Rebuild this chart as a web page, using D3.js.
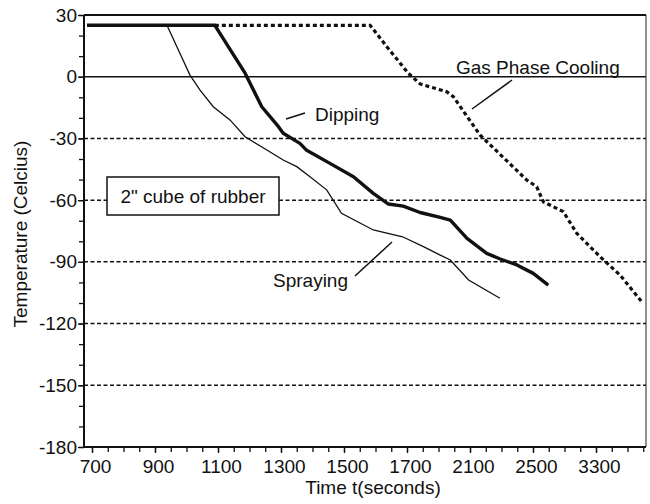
<!DOCTYPE html>
<html>
<head>
<meta charset="utf-8">
<script src="https://cdn.jsdelivr.net/npm/d3@7"></script>
<style>
  body { margin: 0; background: #fff; }
  svg text { font-family: "Liberation Sans", Arial, sans-serif; fill: #111; }
</style>
</head>
<body>
<svg class="chart" width="650" height="504"></svg>
<script>
// time axis labels (irregular steps, drawn equally spaced)
const timeTicks = [700, 900, 1100, 1300, 1500, 1700, 2100, 2500, 3300];
const tempTicks = [30, 0, -30, -60, -90, -120, -150, -180];

// Dipping
const dipTime = [684, 1090, 1186, 1239, 1292, 1307, 1360, 1380, 1454, 1530, 1593, 1641, 1688, 1783, 1911, 1975, 2081, 2206, 2292, 2398, 2503, 2694];
const dipTemp = [25, 25, 1.7, -14.6, -24.3, -27.5, -32.4, -35.6, -42, -48.6, -56.7, -61.9, -62.9, -66, -68.4, -69.7, -78.6, -85.9, -88.6, -91.5, -95.6, -101.3];

// Spraying
const sprayTime = [938, 979, 1011, 1043, 1085, 1138, 1186, 1255, 1307, 1350, 1392, 1445, 1492, 1593, 1686, 1804, 1911, 1975, 2091, 2290];
const sprayTemp = [25, 11.4, 0.8, -6.5, -14.6, -21, -29.2, -35.6, -40.5, -43.7, -48.6, -55, -66.4, -74.5, -77.8, -82.6, -86.7, -89.1, -98.8, -107.7];

// Gas Phase Cooling
const gasTime = [1090, 1583, 1636, 1708, 1783, 1952, 1994, 2163, 2460, 2547, 2631, 2885, 3055, 3351, 3605, 3881];
const gasTemp = [25, 25, 14.6, 1.7, -3.5, -7.3, -9.7, -28.3, -50.2, -53.5, -60.8, -65.6, -76.1, -87.5, -96.4, -109.4];

const zip = (t, v) => t.map((d, i) => ({ t: d, v: v[i] }));

const margin = { top: 15, left: 84 };
const width = 562;
const height = 432;
const step = 63;

const svg = d3.select('.chart');
const chart = svg.append('g')
    .attr('transform', `translate(${margin.left}, ${margin.top})`);

// piecewise scale: every label gets the same spacing
const xScale = d3.scaleLinear()
    .domain(timeTicks)
    .range(timeTicks.map((d, i) => 8 + i * step));

const yScale = d3.scaleLinear()
    .domain([-180, 30])
    .range([height, 0]);

// minor time ticks, 4 per labelled interval
const minorTime = [];
for (let i = 0; i < timeTicks.length - 1; i++) {
    const a = timeTicks[i], b = timeTicks[i + 1];
    for (let k = 0; k < 4; k++) minorTime.push(a + (b - a) * k / 4);
}
minorTime.push(3300, 3500, 3700, 3900);

// grid
chart.selectAll('.grid')
    .data(tempTicks.filter(d => d < 0 && d > -180))
    .join('line')
    .attr('class', 'grid')
    .attr('x1', 0).attr('x2', width)
    .attr('y1', d => yScale(d)).attr('y2', d => yScale(d))
    .attr('stroke', '#111')
    .attr('stroke-width', 1.5)
    .attr('stroke-dasharray', '4,2.5');

chart.selectAll('.solid')
    .data([0, 30])
    .join('line')
    .attr('class', 'solid')
    .attr('x1', 0).attr('x2', width)
    .attr('y1', d => yScale(d)).attr('y2', d => yScale(d))
    .attr('stroke', '#111')
    .attr('stroke-width', d => d === 30 ? 2 : 1.5);

chart.append('line')
    .attr('x1', width).attr('x2', width)
    .attr('y1', 0).attr('y2', height)
    .attr('stroke', '#222')
    .attr('stroke-width', 1);

// box label
chart.append('rect')
    .attr('x', 107 - margin.left).attr('y', 177 - margin.top)
    .attr('width', 172).attr('height', 38)
    .attr('fill', '#fff')
    .attr('stroke', '#111')
    .attr('stroke-width', 1.5);

chart.append('text')
    .attr('x', 193 - margin.left).attr('y', 203 - margin.top)
    .attr('text-anchor', 'middle')
    .style('font-size', '19px')
    .text('2" cube of rubber');

// curves
const line = d3.line()
    .x(d => xScale(d.t))
    .y(d => yScale(d.v));

chart.append('path')
    .datum(zip(gasTime, gasTemp))
    .attr('d', line)
    .attr('fill', 'none')
    .attr('stroke', '#111')
    .attr('stroke-width', 3.2)
    .attr('stroke-dasharray', '4,3');

chart.append('path')
    .datum(zip(sprayTime, sprayTemp))
    .attr('d', line)
    .attr('fill', 'none')
    .attr('stroke', '#111')
    .attr('stroke-width', 1.3);

chart.append('path')
    .datum(zip(dipTime, dipTemp))
    .attr('d', line)
    .attr('fill', 'none')
    .attr('stroke', '#111')
    .attr('stroke-width', 3.4)
    .attr('stroke-linejoin', 'round');

// axes
chart.append('g')
    .call(d3.axisLeft(yScale).tickValues(tempTicks).tickSize(6).tickSizeOuter(0).tickPadding(1).tickFormat(d => String(d)));
chart.append('g')
    .call(d3.axisLeft(yScale).tickValues(d3.range(-180, 31, 10)).tickSize(5).tickSizeOuter(0).tickFormat(''));

const xAxis = chart.append('g')
    .attr('transform', `translate(0, ${height})`)
    .call(d3.axisBottom(xScale).tickValues(timeTicks).tickSize(6).tickSizeOuter(0).tickPadding(7).tickFormat(d3.format('d')));
chart.append('g')
    .attr('transform', `translate(0, ${height})`)
    .call(d3.axisBottom(xScale).tickValues(minorTime).tickSize(5).tickSizeOuter(0).tickFormat(''));

chart.selectAll('.domain').remove();
chart.selectAll('.tick line').attr('stroke', '#111').attr('stroke-width', 1.3);
chart.selectAll('.tick text').style('font-size', '19px').attr('fill', '#111');
xAxis.selectAll('.tick text').attr('dx', 3);

// axis lines across the full frame
chart.append('line')
    .attr('x1', 0).attr('x2', 0)
    .attr('y1', 0).attr('y2', height)
    .attr('stroke', '#111').attr('stroke-width', 2);
chart.append('line')
    .attr('x1', 0).attr('x2', width)
    .attr('y1', height).attr('y2', height)
    .attr('stroke', '#111').attr('stroke-width', 2);

// annotations
const notes = [
    { text: 'Dipping', x: 315, y: 121, lx: [286, 305], ly: [119, 113] },
    { text: 'Gas Phase Cooling', x: 456, y: 74, lx: [512, 472], ly: [80, 109] },
    { text: 'Spraying', x: 273, y: 287, lx: [355, 392], ly: [276, 242] }
];
notes.forEach(n => {
    svg.append('text')
        .attr('x', n.x).attr('y', n.y)
        .style('font-size', '19px')
        .text(n.text);
    svg.append('line')
        .attr('x1', n.lx[0]).attr('x2', n.lx[1])
        .attr('y1', n.ly[0]).attr('y2', n.ly[1])
        .attr('stroke', '#111')
        .attr('stroke-width', 1.5);
});

svg.append('text')
    .attr('transform', 'translate(27, 234) rotate(-90)')
    .attr('text-anchor', 'middle')
    .style('font-size', '19px')
    .text('Temperature (Celcius)');

svg.append('text')
    .attr('x', 373).attr('y', 494)
    .attr('text-anchor', 'middle')
    .style('font-size', '19px')
    .text('Time t(seconds)');
</script>
</body>
</html>
